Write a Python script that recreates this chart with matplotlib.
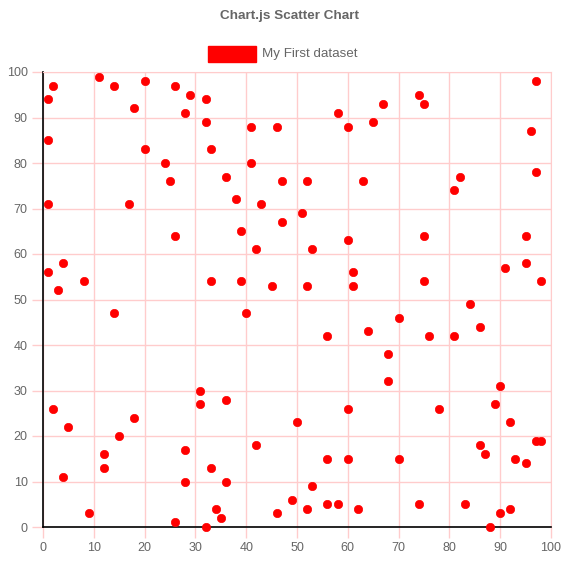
import matplotlib
matplotlib.use("Agg")
import matplotlib.pyplot as plt
from matplotlib.patches import Rectangle

plt.rcParams['font.family'] = ['Liberation Sans', 'DejaVu Sans']

# data
x_vals = [1, 2, 1, 1, 1, 3, 4, 8, 2, 5, 4, 9, 11, 14, 18, 20, 20, 17, 14, 12,
          12, 15, 18, 24, 25, 26, 26, 28, 29, 32, 32, 33, 36, 38, 39, 41, 41, 43, 42, 39,
          40, 33, 46, 47, 47, 45, 51, 52, 53, 52, 56, 58, 60, 65, 67, 60, 61, 61, 63, 64,
          68, 70, 68, 74, 75, 75, 75, 76, 81, 82, 81, 84, 86, 78, 90, 89, 92, 93, 95, 97,
          98, 86, 87, 91, 95, 95, 98, 96, 97, 97, 90, 92, 88, 83, 74, 70, 62, 60, 60, 58,
          56, 56, 53, 52, 50, 49, 46, 42, 36, 36, 33, 34, 35, 32, 31, 31, 28, 28, 26]
y_vals = [94, 97, 85, 71, 56, 52, 58, 54, 26, 22, 11, 3, 99, 97, 92, 98, 83, 71, 47, 16,
          13, 20, 24, 80, 76, 64, 97, 91, 95, 94, 89, 83, 77, 72, 65, 88, 80, 71, 61, 54,
          47, 54, 88, 76, 67, 53, 69, 76, 61, 53, 42, 91, 88, 89, 93, 63, 56, 53, 76, 43,
          38, 46, 32, 95, 93, 64, 54, 42, 74, 77, 42, 49, 44, 26, 31, 27, 23, 15, 14, 19,
          19, 18, 16, 57, 64, 58, 54, 87, 78, 98, 3, 4, 0, 5, 5, 15, 4, 15, 26, 5,
          5, 15, 9, 4, 23, 6, 3, 18, 28, 10, 13, 4, 2, 0, 30, 27, 17, 10, 1]
ticks = [0, 10, 20, 30, 40, 50, 60, 70, 80, 90, 100]

grid_col = '#ffcccc'

fig = plt.figure(figsize=(5.8, 5.65), dpi=100)
ax = fig.add_axes([43 / 580, 38 / 565, 508 / 580, 455 / 565])

ax.scatter(x_vals, y_vals, s=36, color='#ff0000', edgecolors='#ff0000',
           linewidths=0.5, zorder=3, clip_on=False)

ax.set_xlim(0, 100)
ax.set_ylim(0, 100)
ax.set_xticks(ticks)
ax.set_yticks(ticks)
ax.grid(True, color=grid_col, linewidth=1)
ax.set_axisbelow(True)
ax.tick_params(axis='both', length=8, width=1, color=grid_col,
               labelsize=9, labelcolor='#666666', pad=3)

for side in ['top', 'right']:
    ax.spines[side].set_color(grid_col)
for side in ['left', 'bottom']:
    ax.spines[side].set_color('black')
    ax.spines[side].set_linewidth(1.2)

fig.text(0.5, 1 - 16 / 565, 'Chart.js Scatter Chart', ha='center', va='center',
         fontsize=9.7, fontweight='bold', color='#666666')

fig.add_artist(Rectangle((208 / 580, 1 - 62 / 565), 48 / 580, 16 / 565,
                         transform=fig.transFigure, facecolor='#ff0000',
                         edgecolor='#ff0000'))
fig.text(262 / 580, 1 - 54 / 565, 'My First dataset', ha='left', va='center',
         fontsize=9.6, color='#666666')

fig.savefig('out.png', dpi=100)
